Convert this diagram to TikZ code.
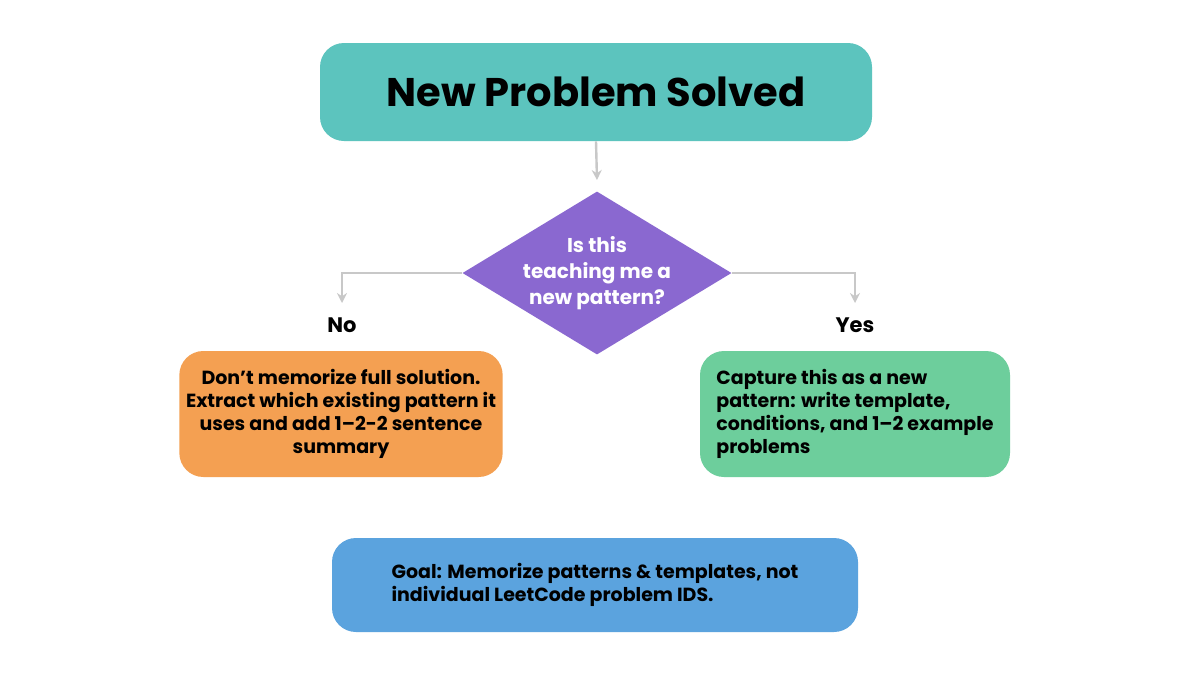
\documentclass[tikz,border=0pt]{standalone}
\usepackage{fontspec}
\setmainfont{Poppins}
\usetikzlibrary{shapes.geometric,arrows.meta}
\definecolor{teal}{HTML}{5CC4BE}
\definecolor{purp}{HTML}{8A68D0}
\definecolor{orng}{HTML}{F4A052}
\definecolor{grn}{HTML}{6DCE9C}
\definecolor{blu}{HTML}{5BA3DE}
\definecolor{conn}{HTML}{C8C8C8}
\begin{document}
\begin{tikzpicture}[x=0.5pt,y=-0.5pt,
 box/.style={rounded corners=12pt,draw=none,align=center,font=\fontsize{9.5}{11.5}\selectfont\bfseries},
 con/.style={conn,line width=1.2pt,-{Stealth[length=5pt,width=5pt]}}]
\useasboundingbox (0,0) rectangle (1200,686);
\fill[white] (0,0) rectangle (1200,686);
\node[box,fill=teal,minimum width=276pt,minimum height=49pt,font=\fontsize{20}{24}\selectfont\bfseries] (t) at (596,92) {New Problem Solved};
\node[diamond,fill=purp,minimum width=127pt,minimum height=77pt,inner sep=0pt,align=center,text=white,font=\fontsize{10}{13}\selectfont\bfseries,aspect=1.65] (d) at (597,273) {Is this\\teaching me a\\new pattern?};
\coordinate (dt) at (597,180);
\draw[con] (t.south) -- (dt);
\coordinate (nl) at (342,303);
\coordinate (nr) at (855,303);
\draw[con] (d.west) -| (nl);
\draw[con] (d.east) -| (nr);
\node[font=\fontsize{10.5}{12}\selectfont\bfseries] (no) at (342,325) {No};
\node[font=\fontsize{10.5}{12}\selectfont\bfseries] (yes) at (855,325) {Yes};
\node[box,fill=orng,minimum width=161pt,minimum height=63pt] (o) at (341,414) {Don’t memorize full solution.\\Extract which existing pattern it\\uses and add 1–2-2 sentence\\summary};
\node[box,fill=grn,minimum width=155pt,minimum height=63pt,align=left] (g) at (855,414) {Capture this as a new\\pattern: write template,\\conditions, and 1–2 example\\problems};
\node[box,fill=blu,minimum width=263pt,minimum height=47pt,align=left] (b) at (595,585) {Goal: Memorize patterns \& templates, not\\individual LeetCode problem IDS.};
\end{tikzpicture}
\end{document}
